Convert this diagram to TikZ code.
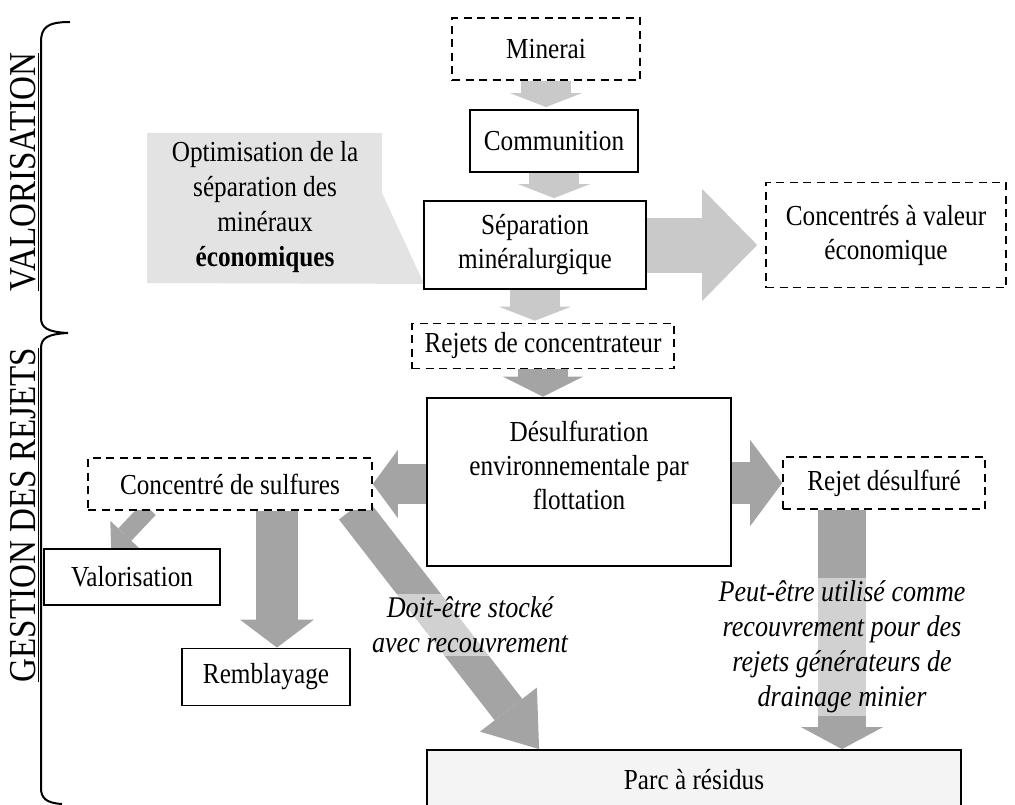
\documentclass[tikz,border=0pt]{standalone}
\usepackage{fontspec}
\setmainfont{Liberation Serif}[FakeStretch=0.87]
\usetikzlibrary{arrows.meta,calc}
\pgfdeclarelayer{background}
\pgfsetlayers{background,main}
\definecolor{arrlight}{HTML}{C9C9C9}
\definecolor{arrdark}{HTML}{A4A4A4}
\definecolor{calloutgray}{HTML}{E3E3E3}
\definecolor{parcfill}{HTML}{F4F4F4}
\begin{document}
\begin{tikzpicture}[x=1pt,y=-1pt,
  txt/.style={font=\fontsize{29}{34}\selectfont, align=center},
  solidbox/.style={txt, draw=black, line width=1.8pt, fill=white, inner sep=0pt},
  dashbox/.style={txt, draw=black, line width=1.6pt, dash pattern=on 8pt off 5.5pt, fill=white, inner sep=0pt},
  blockarr/.style n args={4}{draw=#1, line width=#2, -{Triangle[width=#3, length=#4, line width=0pt]}},
  note/.style={txt, font=\fontsize{30}{35}\selectfont\itshape, fill=white, fill opacity=0.5, text opacity=1, inner sep=3pt},
  sidelabel/.style={font=\fontsize{38}{40}\selectfont, rotate=90, inner sep=0pt, anchor=base},
]
\useasboundingbox (0,0) rectangle (1015,804);

\node[dashbox, minimum width=188pt, minimum height=62pt] (min) at (546,49) {Minerai};
\node[solidbox, minimum width=168pt, minimum height=62pt] (com) at (554,141) {Communition};
\node[solidbox, minimum width=222pt, minimum height=88pt] (sep) at (535,245) {Séparation\\minéralurgique};
\node[dashbox, minimum width=240pt, minimum height=105pt] (conc) at (886,235) {Concentrés à valeur\\économique};
\node[dashbox, minimum width=262pt, minimum height=45pt] (rej) at (543,346) {Rejets de concentrateur};
\node[solidbox, line width=2.6pt, minimum width=304pt, minimum height=168pt] (des) at (579,482) {Désulfuration\\environnementale par\\flottation\\\mbox{}};
\node[dashbox, minimum width=284pt, minimum height=52pt] (cs) at (230,484) {Concentré de sulfures};
\node[dashbox, minimum width=202pt, minimum height=52pt] (rd) at (884,483) {Rejet désulfuré};
\node[solidbox, minimum width=176pt, minimum height=56pt] (val) at (132,577) {Valorisation};
\node[solidbox, minimum width=168pt, minimum height=57pt] (rem) at (266,677) {Remblayage};
\node[solidbox, fill=parcfill, minimum width=534pt, minimum height=60pt] (parc) at (694,780) {Parc à résidus};

\node[txt, font=\fontsize{29}{35}\selectfont] (opt) at (265,207) {Optimisation de la\\séparation des\\minéraux\\\textbf{économiques}};

\begin{pgfonlayer}{background}
\fill[calloutgray] (147,133) -- (382,133) -- (382,193) -- ($(sep.south west)+(1,-6)$) -- (147,283) -- cycle;
\draw[blockarr={arrlight}{50pt}{72pt}{14pt}, shorten >=2pt] (min.south) -- (min.south |- com.north);
\draw[blockarr={arrlight}{50pt}{72pt}{14pt}, shorten >=2pt] (com.south) -- (com.south |- sep.north);
\draw[blockarr={arrlight}{50pt}{72pt}{14pt}, shorten >=2pt] (sep.south) -- (sep.south |- rej.north);
\draw[blockarr={arrdark}{50pt}{80pt}{20pt}] (rej.south) -- (rej.south |- des.north);
\draw[blockarr={arrlight}{55pt}{112pt}{55pt}, shorten >=8pt] (sep.east) -- (sep.east -| conc.west);
\draw[blockarr={arrdark}{40pt}{68pt}{25pt}] (des.west |- cs.east) -- (cs.east);
\draw[blockarr={arrdark}{42pt}{86pt}{32pt}] (des.east |- rd.west) -- (rd.west);
\draw[blockarr={arrdark}{18pt}{40pt}{20pt}] ($(cs.south west)+(62,-2)$) -- ($(val.north west)+(68,1)$);
\draw[blockarr={arrdark}{42pt}{74pt}{28pt}] ($(cs.south)+(47,0)$) -- ($(rem.north)+(11,0)$);
\draw[blockarr={arrdark}{35pt}{72pt}{50pt}] ($(cs.south east)+(-20,-2)$) -- ($(parc.north west)+(113,0)$);
\draw[blockarr={arrdark}{48pt}{82pt}{22pt}] ($(rd.south)+(-42,0)$) -- ($(parc.north)+(148,0)$);
\end{pgfonlayer}

\node[note] (n1) at (470,625) {Doit-être stocké\\avec recouvrement};
\node[note] (n2) at (842,647) {Peut-être utilisé comme\\recouvrement pour des\\rejets générateurs de\\drainage minier};

\node[sidelabel] (lv) at (35,172) {VALORISATION};
\node[sidelabel] (lg) at (35,515) {GESTION DES REJETS};
\draw[line width=1pt] ([xshift=2.5pt]lv.south west) -- ([xshift=2.5pt]lv.south east);
\draw[line width=1pt] ([xshift=2.5pt]lg.south west) -- ([xshift=2.5pt]lg.south east);

\draw[line width=2pt] (70,22) .. controls (48,22) and (41,27) .. (41,42) -- (41,318)
  .. controls (41,328) and (48,332) .. (68,333)
  .. controls (48,334) and (41,338) .. (41,348) -- (41,788)
  .. controls (41,798) and (46,803) .. (62,804);
\end{tikzpicture}
\end{document}
